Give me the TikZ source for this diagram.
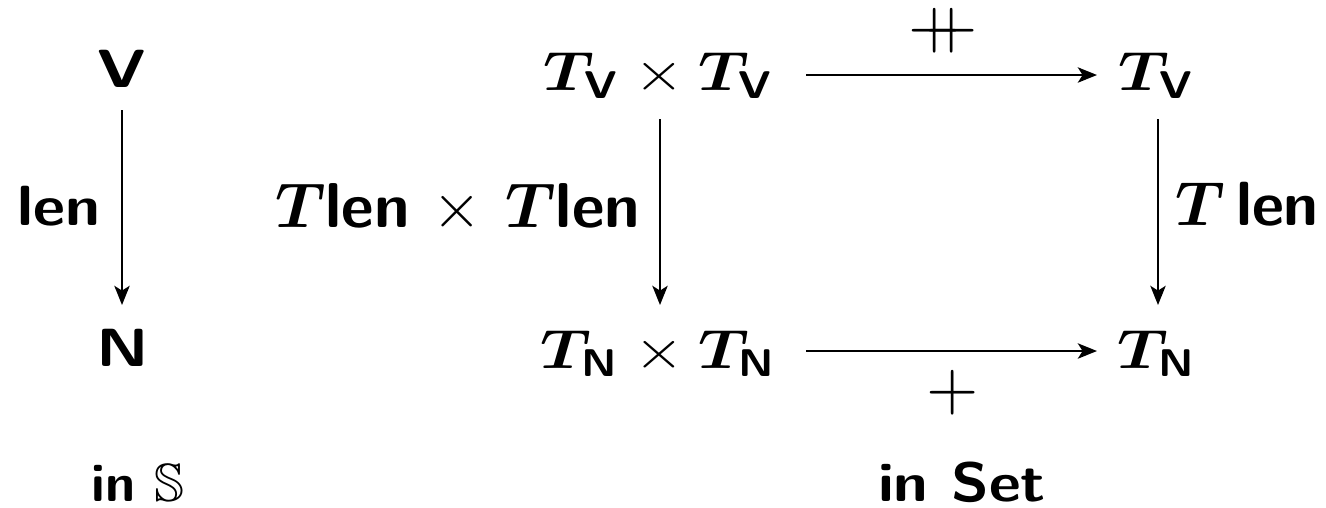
\documentclass[tikz,border=0pt]{standalone}
\usepackage{amsmath,amssymb,bm,graphicx}
\usetikzlibrary{arrows.meta}
\newcommand{\sfb}[1]{\text{\sffamily\bfseries #1}}
\newcommand{\pplus}{\makebox[0pt][l]{$+$}\kern2.6pt$+$}
\begin{document}
\begin{tikzpicture}[x=0.20833pt,y=-0.20833pt,
  lbl/.style={anchor=base,inner sep=0pt,font=\sffamily\bfseries},
  sym/.style={anchor=center,inner sep=0pt},
  arr/.style={-{Stealth[length=4pt,width=3.2pt,inset=1pt]},line width=0.42pt}]
\useasboundingbox (0,0) rectangle (1326,507);
% left diagram
\node[lbl] (V) at (122,87) {\scalebox{1.38}[1.12]{V}};
\node[lbl] (N) at (123,366) {\scalebox{1.38}[1.12]{N}};
\coordinate (a1) at (122,110);
\coordinate (a2) at (122,305);
\draw[arr] (a1) -- (a2);
\node[lbl,anchor=base east] (len) at (101,225) {\scalebox{1.3}[1.18]{len}};
\node[lbl] (inS) at (138,501) {\scalebox{1.12}{in $\mathbb{S}$}};
% right diagram
\node[lbl] (TVV) at (659,90) {\scalebox{1.33}[1.15]{$\bm{T}_{\sfb{V}}\times\bm{T}_{\sfb{V}}$}};
\node[lbl] (TV) at (1157,90) {\scalebox{1.33}[1.15]{$\bm{T}_{\sfb{V}}$}};
\node[lbl] (TNN) at (659,368) {\scalebox{1.33}[1.15]{$\bm{T}_{\sfb{N}}\times\bm{T}_{\sfb{N}}$}};
\node[lbl] (TN) at (1157,368) {\scalebox{1.33}[1.15]{$\bm{T}_{\sfb{N}}$}};
\coordinate (h1) at (806,75); \coordinate (h2) at (1097,75);
\coordinate (h3) at (806,351); \coordinate (h4) at (1097,351);
\coordinate (v1) at (660,119); \coordinate (v2) at (660,305);
\coordinate (v3) at (1158,119); \coordinate (v4) at (1158,305);
\draw[arr] (h1) -- (h2);
\draw[arr] (h3) -- (h4);
\draw[arr] (v1) -- (v2);
\draw[arr] (v3) -- (v4);
\node[sym] (pp) at (943,31) {\scalebox{1.4}{\pplus}};
\node[sym] (p) at (953,393) {\scalebox{1.4}{$+$}};
\node[lbl,anchor=base east] (TlTl) at (641,227) {\scalebox{1.32}{$\bm{T}$len $\times$ $\bm{T}$len}};
\node[lbl,anchor=base west] (Tl) at (1175,225) {\scalebox{1.3}{$\bm{T}\,$len}};
\node[lbl] (inSet) at (962,501) {\scalebox{1.29}[1.15]{in Set}};
\end{tikzpicture}
\end{document}
